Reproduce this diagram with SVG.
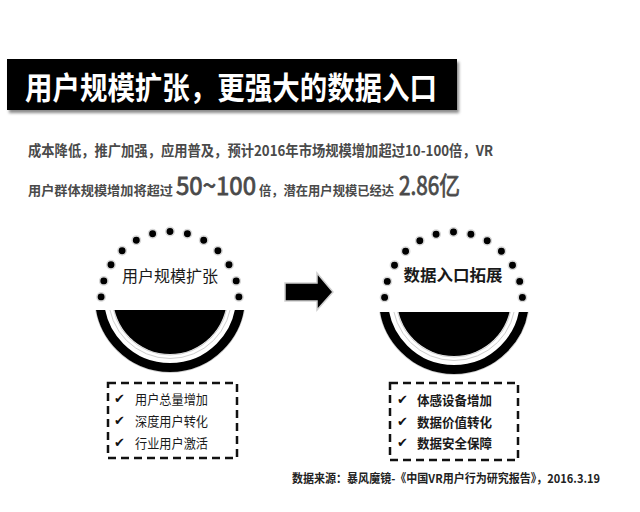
<svg xmlns="http://www.w3.org/2000/svg" width="640" height="512" viewBox="0 0 640 512">
  <defs>
    <style>
      .cjk { font-family: "Noto Sans CJK SC", "Noto Sans", sans-serif; }
      .title { fill: #ffffff; font-size: 31px; font-weight: bold; }
      .lead { fill: #4a4a4a; font-weight: bold; font-size: 14.5px; }
      .small { font-size: 12.6px; }
      .big { fill: #4a4a4a; font-weight: normal; font-size: 25px; stroke: #4a4a4a; stroke-width: 0.8; }
      .label { fill: #1a1a1a; font-size: 16px; stroke: #ffffff; stroke-width: 3; paint-order: stroke; }
      .item { fill: #1a1a1a; font-size: 13px; }
      .check { fill: #111111; font-family: "DejaVu Sans", sans-serif; font-size: 13px; }
      .dot { fill: #000000; stroke: #d8d8d8; stroke-width: 1.5; }
      .ring { fill: none; stroke: #000000; stroke-width: 9; }
      .halo { fill: none; stroke: #cfcfcf; stroke-width: 1; }
      .box { fill: none; stroke: #111111; stroke-width: 2.5; stroke-dasharray: 8 5; }
    </style>
    <filter id="soft" x="-10%" y="-20%" width="120%" height="160%">
      <feGaussianBlur stdDeviation="1.5"/>
    </filter>
    <clipPath id="cutL"><rect x="80" y="310" width="180" height="90"/></clipPath>
    <clipPath id="cutR"><rect x="360" y="312" width="190" height="90"/></clipPath>
    <!-- arc of 13 dots, radius 69, spanning -87..87 degrees -->
    <g id="dots">
      <circle class="dot" cx="0" cy="-69" r="4.2"/>
      <circle class="dot" cx="17.4" cy="-66.8" r="4.2"/>
      <circle class="dot" cx="-17.4" cy="-66.8" r="4.2"/>
      <circle class="dot" cx="33.7" cy="-60.2" r="4.2"/>
      <circle class="dot" cx="-33.7" cy="-60.2" r="4.2"/>
      <circle class="dot" cx="47.9" cy="-49.7" r="4.2"/>
      <circle class="dot" cx="-47.9" cy="-49.7" r="4.2"/>
      <circle class="dot" cx="59.0" cy="-35.8" r="4.2"/>
      <circle class="dot" cx="-59.0" cy="-35.8" r="4.2"/>
      <circle class="dot" cx="66.2" cy="-19.6" r="4.2"/>
      <circle class="dot" cx="-66.2" cy="-19.6" r="4.2"/>
      <circle class="dot" cx="68.9" cy="-3.6" r="4.2"/>
      <circle class="dot" cx="-68.9" cy="-3.6" r="4.2"/>
    </g>
    <!-- ring and disk, centred on the origin -->
    <g id="bowl">
      <circle class="halo" r="75.5"/>
      <circle class="ring" r="70.5"/>
      <circle class="halo" r="61.5"/>
      <circle class="halo" r="58"/>
      <circle fill="#000000" r="57"/>
    </g>
  </defs>

  <rect width="640" height="512" fill="#ffffff"/>

  <!-- headline bar -->
  <g id="headline">
    <rect x="9" y="62" width="450" height="51" fill="#8a8a8a" filter="url(#soft)"/>
    <rect x="7" y="59" width="450" height="51" fill="#000000"/>
    <text class="cjk title" x="25" y="85.5" dominant-baseline="central" textLength="412" lengthAdjust="spacingAndGlyphs">用户规模扩张，更强大的数据入口</text>
  </g>

  <!-- lead paragraph -->
  <g id="lead">
    <text class="cjk lead" x="28" y="149" dominant-baseline="central" textLength="465" lengthAdjust="spacingAndGlyphs">成本降低，推广加强，应用普及，预计2016年市场规模增加超过10-100倍，VR</text>
    <text class="cjk lead small" x="28" y="195" textLength="145" lengthAdjust="spacingAndGlyphs">用户群体规模增加将超过</text>
    <text class="cjk big" x="176" y="195" textLength="80" lengthAdjust="spacingAndGlyphs">50~100</text>
    <text class="cjk lead small" x="259" y="195" textLength="135" lengthAdjust="spacingAndGlyphs">倍，潜在用户规模已经达</text>
    <text class="cjk big" x="399" y="195" textLength="61" lengthAdjust="spacingAndGlyphs">2.86亿</text>
  </g>

  <!-- left node -->
  <g id="node-user-scale">
    <use href="#dots" x="170" y="300.5"/>
    <g clip-path="url(#cutL)"><use href="#bowl" x="170" y="297"/></g>
    <text class="cjk label" x="170" y="274.5" text-anchor="middle" dominant-baseline="central" textLength="96" lengthAdjust="spacingAndGlyphs">用户规模扩张</text>
    <rect class="box" x="108" y="383" width="129" height="75"/>
    <text class="check" x="114" y="403">✔</text>
    <text class="check" x="114" y="425">✔</text>
    <text class="check" x="114" y="447">✔</text>
    <text class="cjk item" x="135" y="398" dominant-baseline="central" textLength="73" lengthAdjust="spacingAndGlyphs">用户总量增加</text>
    <text class="cjk item" x="135" y="420" dominant-baseline="central" textLength="73" lengthAdjust="spacingAndGlyphs">深度用户转化</text>
    <text class="cjk item" x="135" y="442" dominant-baseline="central" textLength="73" lengthAdjust="spacingAndGlyphs">行业用户激活</text>
  </g>

  <!-- right node -->
  <g id="node-data-entry">
    <use href="#dots" x="453.5" y="301"/>
    <g clip-path="url(#cutR)"><use href="#bowl" x="454" y="299"/></g>
    <text class="cjk label" x="453" y="273.5" text-anchor="middle" dominant-baseline="central" font-weight="bold" textLength="99" lengthAdjust="spacingAndGlyphs">数据入口拓展</text>
    <rect class="box" x="390" y="383" width="128" height="77"/>
    <text class="check" x="397" y="404">✔</text>
    <text class="check" x="397" y="426">✔</text>
    <text class="check" x="397" y="447">✔</text>
    <text class="cjk item" x="417" y="399" dominant-baseline="central" font-weight="bold" textLength="75" lengthAdjust="spacingAndGlyphs">体感设备增加</text>
    <text class="cjk item" x="417" y="421" dominant-baseline="central" font-weight="bold" textLength="75" lengthAdjust="spacingAndGlyphs">数据价值转化</text>
    <text class="cjk item" x="417" y="442" dominant-baseline="central" font-weight="bold" textLength="75" lengthAdjust="spacingAndGlyphs">数据安全保障</text>
  </g>

  <!-- connector -->
  <g id="connectors">
    <polygon points="285,283 317,283 317,273 333,292 317,310 317,301 285,301" fill="#000000" stroke="#d0d0d0" stroke-width="1.5" stroke-linejoin="miter"/>
  </g>

  <!-- source note -->
  <text class="cjk" x="292" y="477" font-size="12" font-weight="bold" fill="#222222" dominant-baseline="central" textLength="308" lengthAdjust="spacingAndGlyphs">数据来源：暴风魔镜-《中国VR用户行为研究报告》，2016.3.19</text>
</svg>
